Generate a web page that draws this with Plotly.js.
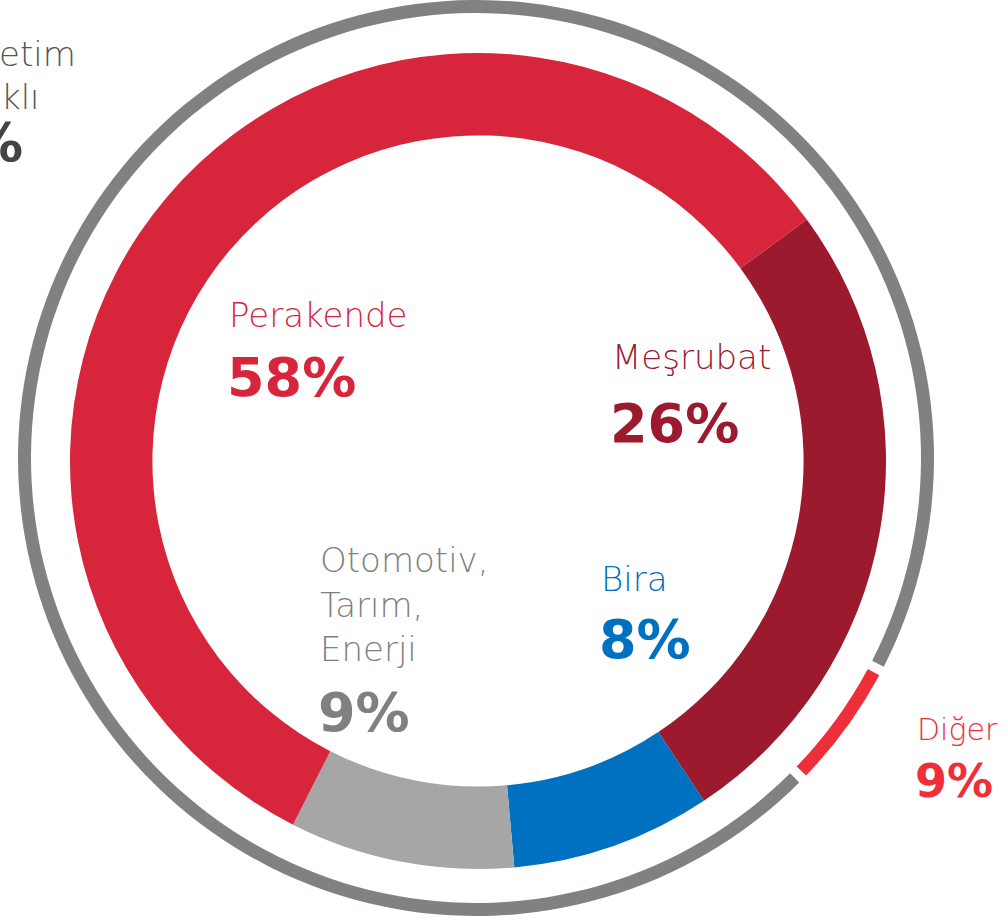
<!DOCTYPE html>
<html>
<head>
<meta charset="utf-8">
<script src="https://cdn.plot.ly/plotly-3.0.1.min.js"></script>
<style>html,body{margin:0;padding:0;background:#fff;overflow:hidden}#chart{width:1008px;height:922px}</style>
</head>
<body>
<div id="chart"></div>
<script>
// Inner donut: sector shares (%)
const innerLabels = ["Meşrubat", "Bira", "Otomotiv, Tarım, Enerji", "Perakende"];
const innerValues = [26, 8, 9, 58];
const innerColors = ["#9C1A2E", "#0070C0", "#A6A6A6", "#D7263C"];

// Outer ring: arc shares (degrees of the ring)
const outerLabels = ["Diğer", "gap1", "Ana", "gap2"];
const outerValues = [15.6, 1.2, 342, 1.2];
const outerColors = ["#EE2E39", "rgba(0,0,0,0)", "#808281", "rgba(0,0,0,0)"];

// Text labels
const labelNames = ["Perakende", "Meşrubat", "Bira", "Diğer"];
const labelPercents = ["58%", "26%", "8%", "9%"];
const otherLines = ["Otomotiv,", "Tarım,", "Enerji"];
const otherPercent = "9%";
const cutLines = ["Üretim", "Ağırlıklı"];
const cutPercent = "%";

const W = 1008, H = 922;
const px = x => x / W;
const py = y => 1 - y / H;

const FONT = "'DejaVu Sans', sans-serif";
const lightSize = 34, boldSize = 54;

function ann(text, x, y, color, size, bold, xanchor) {
  return {
    text: text, xref: "paper", yref: "paper", x: px(x), y: py(y),
    xanchor: xanchor || "left", yanchor: "middle", showarrow: false,
    borderpad: 0,
    font: {family: FONT, size: size, color: color, weight: bold ? 700 : 200}
  };
}

const annotations = [
  ann(labelNames[0], 228, 315, innerColors[3], lightSize, false),
  ann(labelPercents[0], 226, 377, innerColors[3], boldSize, true),
  ann(labelNames[1], 611, 357, innerColors[0], lightSize, false),
  ann(labelPercents[1], 609, 423, innerColors[0], boldSize, true),
  ann(labelNames[2], 600, 579, innerColors[1], lightSize, false),
  ann(labelPercents[2], 598, 639, innerColors[1], boldSize, true),
  ann(otherLines[0], 319, 560, "#808080", lightSize, false),
  ann(otherLines[1], 319, 605, "#808080", lightSize, false),
  ann(otherLines[2], 319, 649, "#808080", lightSize, false),
  ann(otherPercent, 317, 712, "#808080", boldSize, true),
  ann(labelNames[3], 916, 729, outerColors[0], 30, false),
  ann(labelPercents[3], 914, 781, outerColors[0], 46, true),
  ann(cutLines[0], 77, 54, "#555555", lightSize, false, "right"),
  ann(cutLines[1], 41, 97, "#555555", lightSize, false, "right"),
  ann(cutPercent, 24, 142, "#444444", boldSize, true, "right")
];

const data = [
  {
    type: "pie", labels: outerLabels, values: outerValues, sort: false,
    direction: "clockwise", rotation: 118.3, hole: 0.9716,
    marker: {colors: outerColors, line: {width: 0}},
    textinfo: "none", hoverinfo: "none",
    domain: {x: [px(18), px(934)], y: [py(916), py(0)]}
  },
  {
    type: "pie", labels: innerLabels, values: innerValues, sort: false,
    direction: "clockwise", rotation: 53.7, hole: 0.798,
    marker: {colors: innerColors, line: {width: 0}},
    textinfo: "none", hoverinfo: "none",
    domain: {x: [px(70), px(886)], y: [py(869), py(53)]}
  }
];

const layout = {
  width: W, height: H,
  margin: {l: 0, r: 0, t: 0, b: 0},
  paper_bgcolor: "#ffffff", plot_bgcolor: "#ffffff",
  showlegend: false,
  annotations: annotations
};

Plotly.newPlot("chart", data, layout, {displayModeBar: false, staticPlot: true});
</script>
</body>
</html>
